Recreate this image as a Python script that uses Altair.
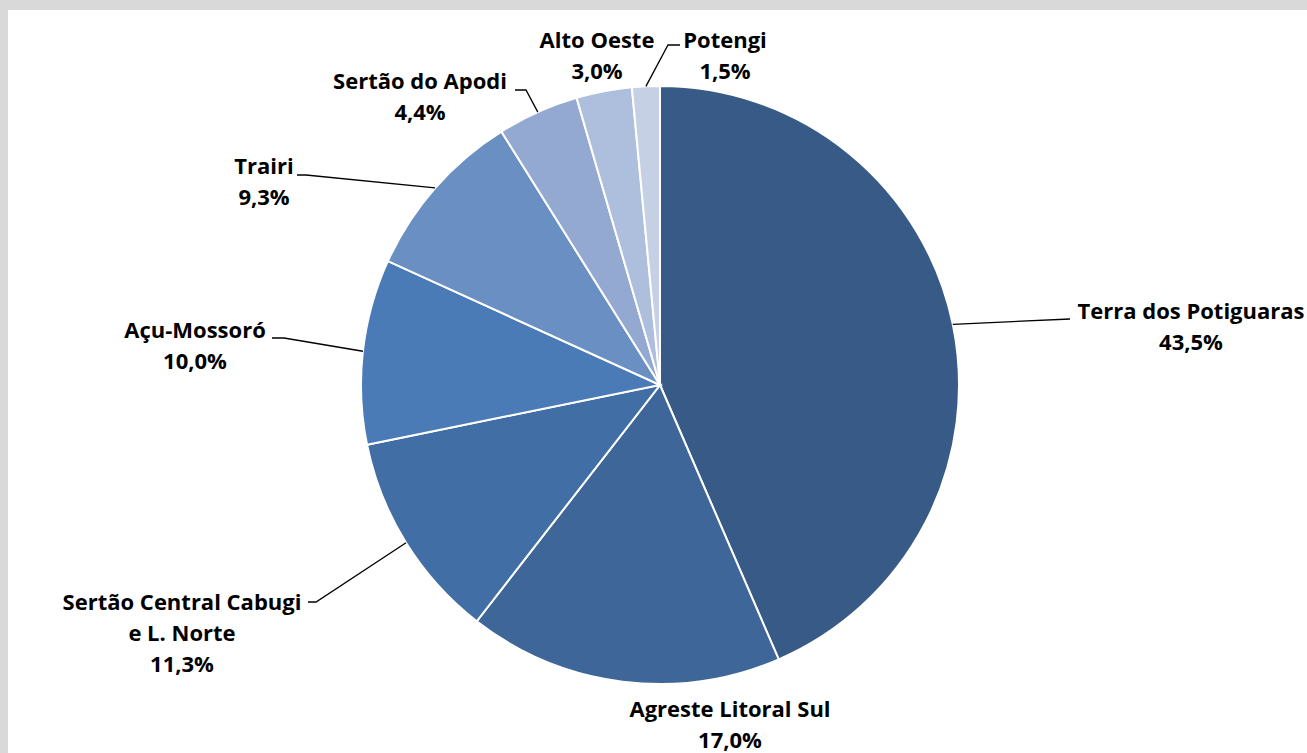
import math
import altair as alt
import pandas as pd

# Regional shares (%) in clockwise order starting at 12 o'clock
names = ["Terra dos Potiguaras", "Agreste Litoral Sul", "Sertão Central Cabugi e L. Norte",
         "Açu-Mossoró", "Trairi", "Sertão do Apodi", "Alto Oeste", "Potengi"]
name_lines = [["Terra dos Potiguaras"], ["Agreste Litoral Sul"], ["Sertão Central Cabugi", "e L. Norte"],
              ["Açu-Mossoró"], ["Trairi"], ["Sertão do Apodi"], ["Alto Oeste"], ["Potengi"]]
shares = [43.5, 17.0, 11.3, 10.0, 9.3, 4.4, 3.0, 1.5]
colors = ["#385a86", "#3e6698", "#416ea4", "#4a7bb6", "#6a8fc3", "#93a9d2", "#aebedd", "#c6d0e5"]

# Label placement (centre of first text line) and leader-line elbows
label_x = [1191, 730, 182, 195, 264, 420, 597, 725]
label_y = [312, 710, 603, 331, 167, 82, 41, 41]
leader_bend = [(1070, 319), None, (316, 602), (284, 338), (306, 175), (526, 90), None, (668, 45)]
leader_tail = [(1070, 319), None, (308, 602), (272, 338), (297, 175), (515, 90), None, (680, 45)]

W, H = 1307, 753
CX, CY, R = 660, 385, 299
LINE_H = 31

pie_df = pd.DataFrame({"name": names, "share": shares, "idx": range(len(names))})

# Leader lines start at the rim, at the middle angle of each slice
total = sum(shares)
rows = []
cum = 0.0
for i, (n, v) in enumerate(zip(names, shares)):
    mid = (cum + v / 2) / total * 2 * math.pi
    cum += v
    if leader_bend[i] is None:
        continue
    sx = CX + R * math.sin(mid)
    sy = CY - R * math.cos(mid)
    pts = [(sx, sy), leader_bend[i], leader_tail[i]]
    for k, (px, py) in enumerate(pts):
        rows.append({"name": n, "k": k, "px": px, "py": py})
lead_df = pd.DataFrame(rows)

# Text rows: name lines then the formatted percentage
trows = []
for i, v in enumerate(shares):
    lines = name_lines[i] + [f"{v:.1f}".replace(".", ",") + "%"]
    for j, t in enumerate(lines):
        trows.append({"t": t, "tx": label_x[i], "ty": label_y[i] + j * LINE_H})
text_df = pd.DataFrame(trows)

panel = alt.Chart(pd.DataFrame({"a": [0]})).mark_rect(color="white").encode(
    x=alt.value(8), x2=alt.value(W), y=alt.value(10), y2=alt.value(H)
)

pie = alt.Chart(pie_df).mark_arc(outerRadius=R, stroke="white", strokeWidth=2).encode(
    theta=alt.Theta("share:Q", stack=True),
    order=alt.Order("idx:Q"),
    color=alt.Color("name:N", scale=alt.Scale(domain=names, range=colors), legend=None),
    x=alt.value(CX),
    y=alt.value(CY),
)

leaders = alt.Chart(lead_df).mark_line(color="black", strokeWidth=1.3).encode(
    x=alt.X("px:Q", scale=None),
    y=alt.Y("py:Q", scale=None),
    detail="name:N",
    order="k:Q",
)

labels = alt.Chart(text_df).mark_text(
    font="Open Sans", fontSize=22, fontWeight="bold", color="black", align="center", baseline="middle"
).encode(
    x=alt.X("tx:Q", scale=None),
    y=alt.Y("ty:Q", scale=None),
    text="t:N",
)

chart = alt.layer(panel, pie, leaders, labels).properties(
    width=W, height=H, background="#d9d9d9", padding=0, autosize=alt.AutoSizeParams(type="none")
).configure_view(stroke=None)

chart.save("out.html", embed_options={"renderer": "svg", "actions": False})
